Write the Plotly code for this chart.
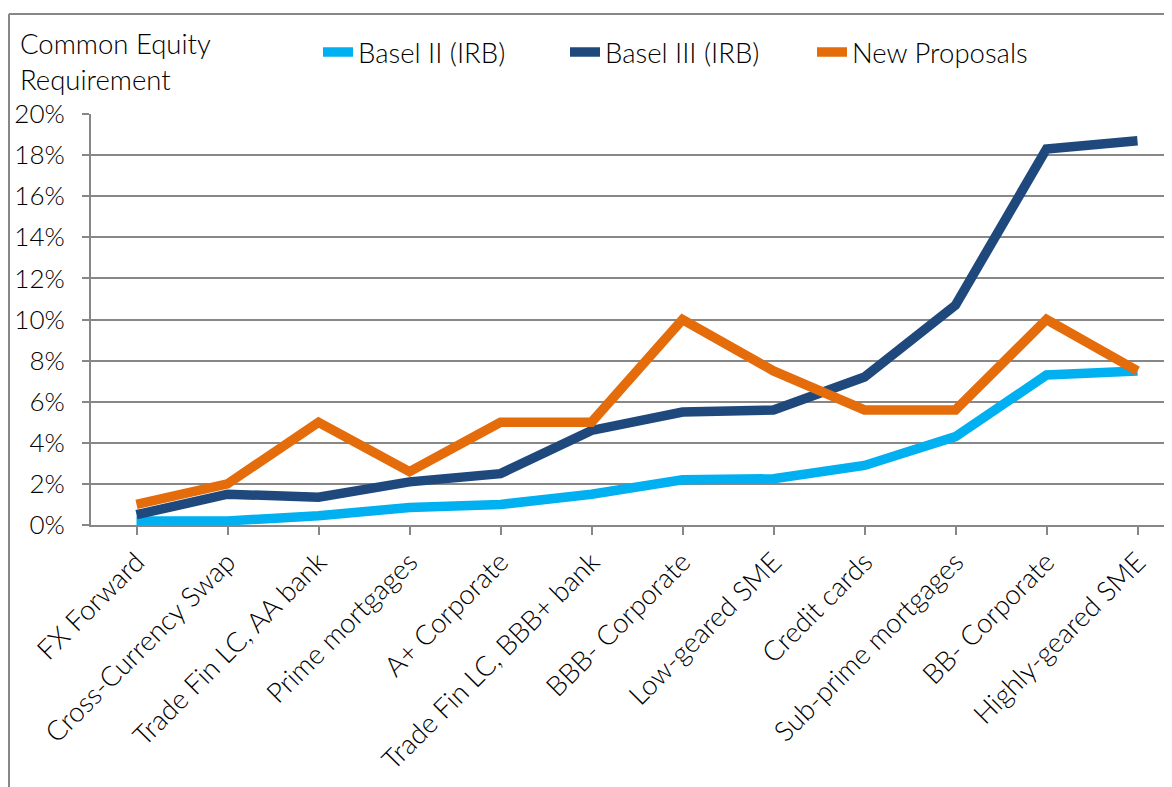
import plotly.graph_objects as go

categories = [
    "FX Forward", "Cross-Currency Swap", "Trade Fin LC, AA bank", "Prime mortgages",
    "A+ Corporate", "Trade Fin LC, BBB+ bank", "BBB- Corporate", "Low-geared SME",
    "Credit cards", "Sub-prime mortgages", "BB- Corporate", "Highly-geared SME",
]
basel2 = [0.2, 0.2, 0.45, 0.85, 1.0, 1.5, 2.2, 2.25, 2.9, 4.3, 7.3, 7.5]
basel3 = [0.5, 1.5, 1.35, 2.1, 2.5, 4.6, 5.5, 5.6, 7.2, 10.7, 18.3, 18.7]
new_proposals = [1.0, 2.0, 5.0, 2.6, 5.0, 5.0, 10.0, 7.5, 5.6, 5.6, 10.0, 7.5]
y_ticks = [0, 2, 4, 6, 8, 10, 12, 14, 16, 18, 20]

series = [
    ("Basel II (IRB)", basel2, "#00B0F0"),
    ("Basel III (IRB)", basel3, "#1F497D"),
    ("New Proposals", new_proposals, "#E46C0A"),
]

# page has an 8px body margin, so the figure is a bit smaller than the window
OFF = 8
W, H = 1172 - OFF, 787 - OFF
L, T, B = 91 - OFF, 114 - OFF, 787 - 525
PW, PH = W - L, 525 - 114
grid = "#878787"
font = "Lato"
txt = dict(size=27.5, weight=300)


def px(x):
    return (x - OFF - L) / PW


def py(y):
    return (525 - y) / PH


fig = go.Figure()
for name, vals, col in series:
    fig.add_trace(go.Scatter(
        x=list(range(len(categories))), y=vals, name=name, mode="lines",
        line=dict(color=col, width=9.5),
    ))

fig.update_layout(
    width=W, height=H,
    margin=dict(l=L, r=0, t=T, b=B, pad=0),
    paper_bgcolor="white", plot_bgcolor="white",
    font=dict(family=font, size=26, color="#000000", weight=300),
    showlegend=True,
    legend=dict(
        orientation="h", x=px(318), xanchor="left",
        y=py(52), yanchor="middle",
        font=txt, itemwidth=30, tracegroupgap=0,
        entrywidth=202,
    ),
    xaxis=dict(
        tickmode="array", tickvals=list(range(len(categories))), ticktext=categories,
        range=[-0.5, PW / 91 - 0.5], tickangle=-45, tickfont=txt,
        showgrid=False, showline=True, linecolor=grid, linewidth=2,
        ticks="outside", ticklen=8, tickcolor=grid, tickwidth=2,
        tickson="boundaries", zeroline=False,
    ),
    yaxis=dict(
        range=[0, 20], tickvals=y_ticks, ticktext=[f"{v}%" for v in y_ticks],
        showgrid=True, gridcolor=grid, gridwidth=1.5,
        showline=True, linecolor=grid, linewidth=2,
        ticks="outside", ticklen=7, tickcolor=grid, tickwidth=2,
        ticklabelstandoff=12, zeroline=False,
    ),
)

# outer chart frame (cropped at right and bottom)
fig.add_shape(type="line", xref="paper", yref="paper", x0=px(9), x1=1.05, y0=py(14), y1=py(14),
              line=dict(color=grid, width=2))
fig.add_shape(type="line", xref="paper", yref="paper", x0=px(9), x1=px(9), y0=py(14), y1=-0.7,
              line=dict(color=grid, width=2))

fig.add_annotation(
    text="Common Equity<br>Requirement", xref="paper", yref="paper",
    x=px(18), y=py(25), xanchor="left", yanchor="top",
    showarrow=False, align="left", font=txt,
)

fig.write_html("out.html")
